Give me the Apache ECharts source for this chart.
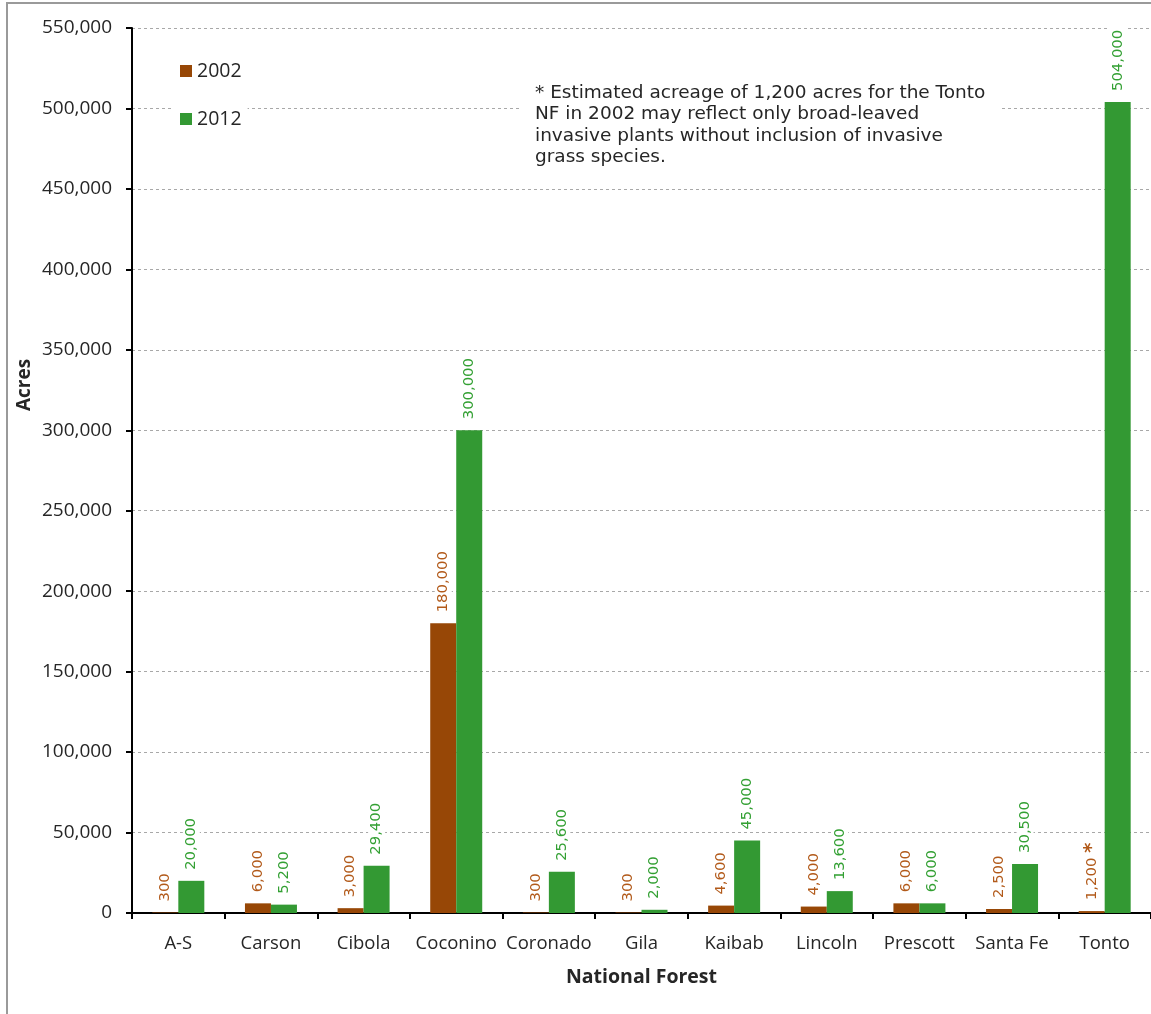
<!DOCTYPE html>
<html>
<head>
<meta charset="utf-8">
<script src="https://cdn.jsdelivr.net/npm/echarts@6/dist/echarts.min.js"></script>
<style>
  html, body { margin: 0; padding: 0; background: #fff; }
  #chart { width: 1151px; height: 1014px; }
</style>
</head>
<body>
<div id="chart"></div>
<script>
// Infested acreage by National Forest, 2002 vs 2012
const forests = ['A-S', 'Carson', 'Cibola', 'Coconino', 'Coronado', 'Gila', 'Kaibab', 'Lincoln', 'Prescott', 'Santa Fe', 'Tonto'];
const acres2002 = [300, 6000, 3000, 180000, 300, 300, 4600, 4000, 6000, 2500, 1200];
const acres2012 = [20000, 5200, 29400, 300000, 25600, 2000, 45000, 13600, 6000, 30500, 504000];
const seriesNames = ['2002', '2012'];
const yTicks = { min: 0, max: 550000, step: 50000 };
// forest whose 2002 estimate carries the footnote marker
const footnoteForest = 'Tonto';
const footnoteText = [
  '* Estimated acreage of 1,200 acres for the Tonto',
  'NF in 2002 may reflect only broad-leaved',
  'invasive plants without inclusion of invasive',
  'grass species.'
];

const BROWN = '#974706';
const GREEN = '#339933';
const BROWN_LABEL = '#B25A1A';
const GREEN_LABEL = '#33A033';
const TEXT = '#262626';
const SANS = '"Open Sans", sans-serif';
const VERDANA = '"DejaVu Sans", sans-serif';

const fmt = v => v.toLocaleString('en-US');

function valueLabel(color, withNote) {
  return {
    show: true,
    position: 'top',
    rotate: 90,
    align: 'left',
    verticalAlign: 'middle',
    distance: 9,
    color: color,
    fontFamily: VERDANA,
    fontSize: 14.8,
    backgroundColor: '#fff',
    padding: [1, 2],
    formatter: p => fmt(p.value) + (withNote && p.name === footnoteForest ? ' {note|*}' : ''),
    rich: {
      note: { color: BROWN_LABEL, fontSize: 20, fontWeight: 'bold', fontFamily: VERDANA }
    }
  };
}

const chart = echarts.init(document.getElementById('chart'), null, { renderer: 'canvas' });

chart.setOption({
  backgroundColor: '#fff',
  animation: false,
  grid: { left: 132, top: 28, right: -8, bottom: 101, containLabel: false },
  legend: {
    data: seriesNames,
    orient: 'vertical',
    left: 174,
    top: 57,
    itemWidth: 12,
    itemHeight: 12,
    itemGap: 28,
    icon: 'rect',
    backgroundColor: '#fff',
    padding: [4, 6],
    textStyle: { fontFamily: SANS, fontSize: 19.5, color: TEXT }
  },
  xAxis: {
    type: 'category',
    data: forests,
    name: 'National Forest',
    nameLocation: 'middle',
    nameGap: 54,
    nameTextStyle: { fontFamily: SANS, fontSize: 19.5, fontWeight: 'bold', color: TEXT },
    axisLine: { lineStyle: { color: '#000', width: 2 } },
    axisTick: { show: true, length: 6, alignWithLabel: false, lineStyle: { color: '#000', width: 2 } },
    axisLabel: { fontFamily: SANS, fontSize: 18.5, color: TEXT, margin: 21, interval: 0 }
  },
  yAxis: {
    type: 'value',
    min: yTicks.min,
    max: yTicks.max,
    interval: yTicks.step,
    axisLine: { show: true, lineStyle: { color: '#000', width: 2 } },
    axisTick: { show: true, length: 6, lineStyle: { color: '#000', width: 2 } },
    axisLabel: { fontFamily: SANS, fontSize: 19, color: TEXT, margin: 20, formatter: v => fmt(v) },
    splitLine: { show: true, lineStyle: { color: '#a8a8a8', width: 1, type: [3, 3] } }
  },
  series: [
    {
      name: seriesNames[0],
      type: 'bar',
      data: acres2002,
      barWidth: 26,
      barGap: '0%',
      itemStyle: { color: BROWN },
      label: valueLabel(BROWN_LABEL, true)
    },
    {
      name: seriesNames[1],
      type: 'bar',
      data: acres2012,
      barWidth: 26,
      barGap: '0%',
      itemStyle: { color: GREEN },
      label: valueLabel(GREEN_LABEL, false)
    }
  ],
  graphic: [
    {
      type: 'rect',
      silent: true,
      shape: { x: 7, y: 3, width: 1300, height: 1200 },
      style: { fill: 'none', stroke: '#9a9a9a', lineWidth: 2 },
      z: 100
    },
    {
      type: 'text',
      silent: true,
      x: 25,
      y: 385,
      rotation: Math.PI / 2,
      style: {
        text: 'Acres',
        fontFamily: SANS,
        fontSize: 19,
        fontWeight: 'bold',
        fill: TEXT,
        textAlign: 'center',
        textVerticalAlign: 'middle'
      }
    },
    {
      type: 'text',
      silent: true,
      left: 521,
      top: 76,
      z: 50,
      style: {
        text: footnoteText.join('\n'),
        fontFamily: VERDANA,
        fontSize: 18.5,
        lineHeight: 21.5,
        fill: TEXT,
        backgroundColor: '#fff',
        padding: [6, 16, 6, 14]
      }
    }
  ]
});
</script>
</body>
</html>
